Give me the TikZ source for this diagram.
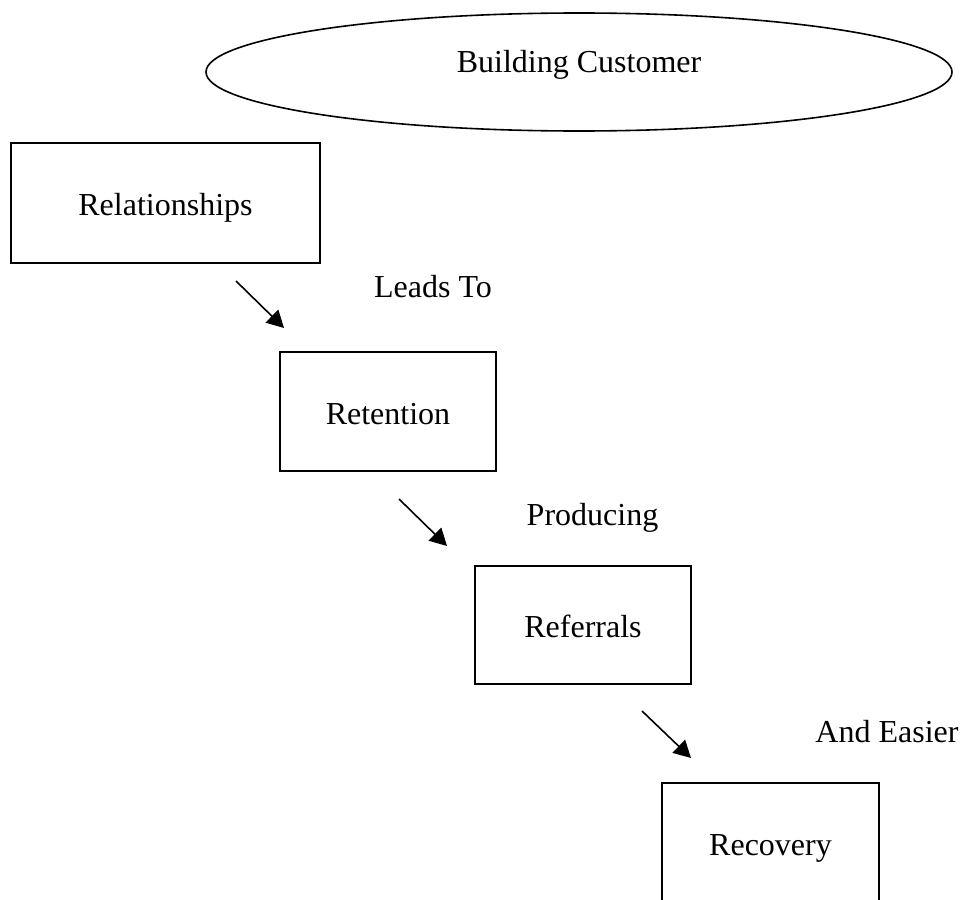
\documentclass[tikz,border=0pt]{standalone}
\usepackage{fontspec}
\setmainfont{Liberation Serif}
\usetikzlibrary{shapes.geometric,arrows.meta}
\begin{document}
\begin{tikzpicture}[x=1pt,y=-1pt,
  every node/.style={font=\fontsize{32}{38}\selectfont},
  stage/.style={draw, line width=1.6pt, rectangle, inner sep=0pt,
    text height=29pt, text depth=4pt},
  caption/.style={inner sep=0pt, anchor=base},
  flow/.style={line width=1.6pt, -{Triangle[length=17pt,width=18pt]}}]
\useasboundingbox (0,0) rectangle (960,899);
\clip (0,0) rectangle (960,899);

% title ellipse
\node[draw, ellipse, line width=1.6pt, inner sep=0pt, text height=16pt, text depth=16pt,
  minimum width=746pt, minimum height=118pt] (title) at (579,72) {Building Customer};

% stages
\node[stage, minimum width=309pt, minimum height=120pt] (rel) at (165.5,203) {Relationships};
\node[stage, minimum width=216pt, minimum height=119pt] (ret) at (388,411.5) {Retention};
\node[stage, minimum width=216pt, minimum height=118pt] (ref) at (583,625) {Referrals};
\node[stage, minimum width=217pt, minimum height=120pt] (rec) at (770.5,843) {Recovery};

% step captions
\node[caption] (lt) at (433,297) {Leads To};
\node[caption] (pr) at (592.5,525) {Producing};
\node[caption] (ae) at (887,742) {And Easier};

% arrows between stages
\coordinate (a1s) at (236,281); \coordinate (a1e) at (284,328);
\coordinate (a2s) at (399,499); \coordinate (a2e) at (447,546);
\coordinate (a3s) at (642,711); \coordinate (a3e) at (691,758);
\draw[flow] (a1s) -- (a1e);
\draw[flow] (a2s) -- (a2e);
\draw[flow] (a3s) -- (a3e);
\end{tikzpicture}
\end{document}
